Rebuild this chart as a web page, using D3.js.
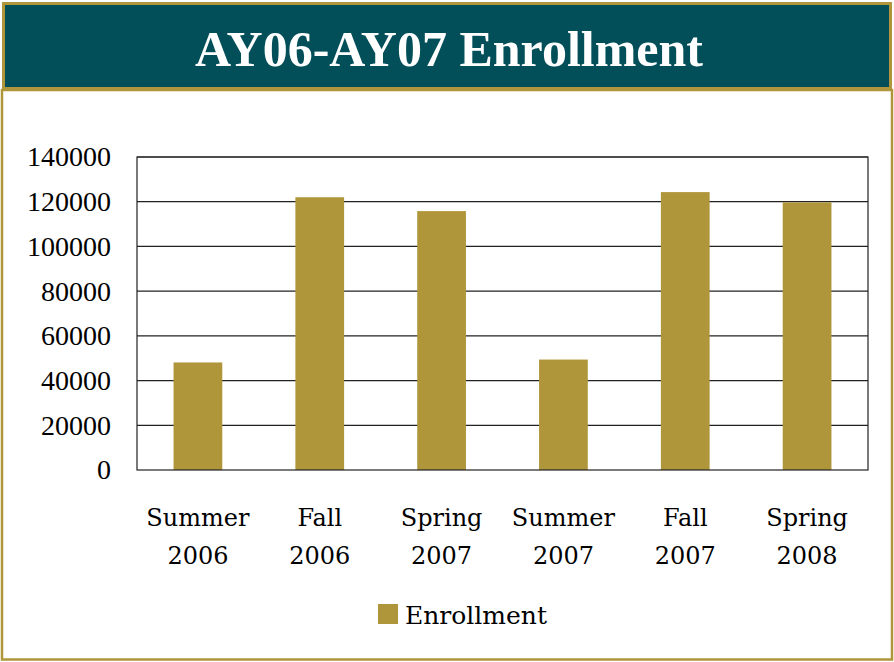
<!DOCTYPE html>
<html>
<head>
<meta charset="utf-8">
<script src="https://cdn.jsdelivr.net/npm/d3@7"></script>
<style>
  body { margin: 0; background: #fff; }
  text { font-family: "DejaVu Serif", "Liberation Serif", serif; }
</style>
</head>
<body>
<svg id="chart"></svg>
<script>
const categories = [['Summer', '2006'], ['Fall', '2006'], ['Spring', '2007'],
                    ['Summer', '2007'], ['Fall', '2007'], ['Spring', '2008']];
const enrollment = [48100, 122000, 115800, 49400, 124300, 119700];
const yTicks = [0, 20000, 40000, 60000, 80000, 100000, 120000, 140000];
const seriesName = 'Enrollment';
const title = 'AY06-AY07 Enrollment';

const width = 894;
const height = 662;
const gold = '#b0963a';
const teal = '#034f59';

const svg = d3.select('#chart')
  .attr('width', width)
  .attr('height', height);

// content frame
svg.append('rect')
  .attr('x', 2).attr('y', 90)
  .attr('width', 890).attr('height', 569.5)
  .attr('fill', '#fff')
  .attr('stroke', gold)
  .attr('stroke-width', 2.5);

// title banner
svg.append('rect')
  .attr('x', 3.5).attr('y', 3.5)
  .attr('width', 887).attr('height', 85)
  .attr('fill', teal)
  .attr('stroke', gold)
  .attr('stroke-width', 3);

svg.append('text')
  .attr('x', 449)
  .attr('y', 66)
  .attr('text-anchor', 'middle')
  .attr('fill', '#fff')
  .style('font-family', '"Liberation Serif", serif')
  .style('font-size', '50px')
  .style('font-weight', 'bold')
  .text(title);

const margin = { left: 137, right: 868, top: 157, bottom: 470 };

const x = d3.scaleBand()
  .domain(d3.range(categories.length))
  .range([margin.left, margin.right]);

const y = d3.scaleLinear()
  .domain([0, 140000])
  .range([margin.bottom, margin.top]);

const g = svg.append('g');

// grid lines
g.selectAll('.grid')
  .data(yTicks.slice(1))
  .enter().append('line')
    .attr('class', 'grid')
    .attr('x1', margin.left).attr('x2', margin.right)
    .attr('y1', d => y(d)).attr('y2', d => y(d))
    .attr('stroke', '#222')
    .attr('stroke-width', 1.2);

// bars
const barW = x.bandwidth() * 0.4;
g.selectAll('.bar')
  .data(enrollment)
  .enter().append('rect')
    .attr('class', 'bar')
    .attr('x', (d, i) => x(i) + (x.bandwidth() - barW) / 2)
    .attr('y', d => y(d))
    .attr('width', barW)
    .attr('height', d => y(0) - y(d))
    .attr('fill', gold);

// plot border
g.append('rect')
  .attr('x', margin.left).attr('y', margin.top)
  .attr('width', margin.right - margin.left)
  .attr('height', margin.bottom - margin.top)
  .attr('fill', 'none')
  .attr('stroke', '#222')
  .attr('stroke-width', 1.2);

// y axis labels
const yAxis = d3.axisLeft(y).tickValues(yTicks).tickSize(0).tickPadding(26).tickFormat(d3.format('d'));
const ya = svg.append('g')
  .attr('transform', 'translate(' + margin.left + ',0)')
  .call(yAxis);
ya.select('.domain').remove();
ya.selectAll('text')
  .style('font-family', '"Liberation Serif", serif')
  .style('font-size', '28px')
  .attr('fill', '#000');

// x axis labels
const xl = svg.append('g').selectAll('.xlab')
  .data(categories)
  .enter().append('text')
    .attr('class', 'xlab')
    .attr('text-anchor', 'middle')
    .attr('x', (d, i) => x(i) + x.bandwidth() / 2)
    .attr('y', 526)
    .style('font-size', '24px')
    .attr('fill', '#000');
xl.append('tspan').attr('x', (d, i) => x(i) + x.bandwidth() / 2).text(d => d[0]);
xl.append('tspan').attr('x', (d, i) => x(i) + x.bandwidth() / 2).attr('dy', 38).text(d => d[1]);

// legend
const legend = svg.append('g').attr('transform', 'translate(378,604)');
legend.append('rect')
  .attr('width', 20).attr('height', 20)
  .attr('fill', gold);
legend.append('text')
  .attr('x', 27).attr('y', 20)
  .style('font-size', '25px')
  .attr('fill', '#000')
  .text(seriesName);
</script>
</body>
</html>
